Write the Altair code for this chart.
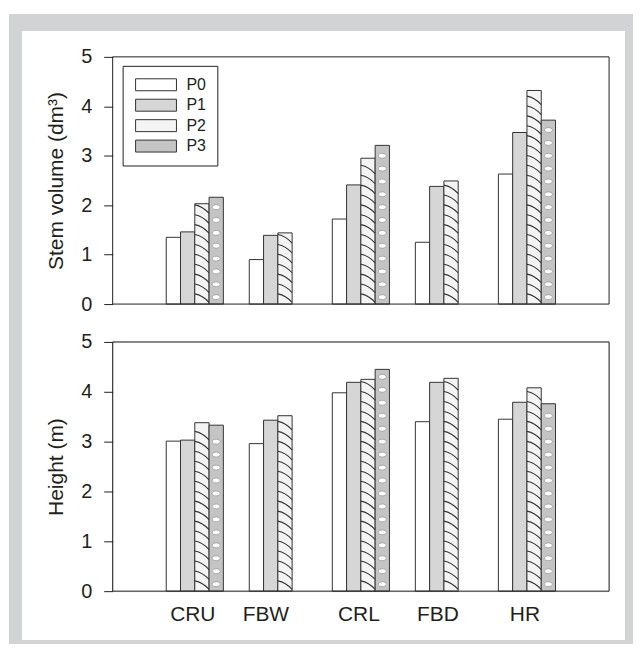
import altair as alt
import pandas as pd

categories = ["CRU", "FBW", "CRL", "FBD", "HR"]
series = ["P0", "P1", "P2", "P3"]

volume_p0 = [1.35, 0.90, 1.72, 1.25, 2.63]
volume_p1 = [1.46, 1.39, 2.41, 2.38, 3.47]
volume_p2 = [2.03, 1.44, 2.95, 2.49, 4.32]
volume_p3 = [2.16, None, 3.21, None, 3.72]

height_p0 = [3.01, 2.96, 3.98, 3.40, 3.45]
height_p1 = [3.03, 3.43, 4.19, 4.19, 3.79]
height_p2 = [3.38, 3.52, 4.25, 4.27, 4.08]
height_p3 = [3.33, None, 4.45, None, 3.76]

y_ticks = [0, 1, 2, 3, 4, 5]


def long_table(cols):
    rows = []
    for s, vals in zip(series, cols):
        for c, v in zip(categories, vals):
            if v is not None:
                rows.append({"cat": c, "series": s, "value": v})
    return pd.DataFrame(rows)


vol_df = long_table([volume_p0, volume_p1, volume_p2, volume_p3])
hgt_df = long_table([height_p0, height_p1, height_p2, height_p3])

FONT = "Liberation Sans"
INK = "#231f20"
FILLS = ["#ffffff", "#d6d6d6", "#f4f4f4", "#c4c4c4"]
HATCH = "M-1,-0.6Q0.1,-0.4,1,0.6"
BLOB = "M-1,0A1,0.6,0,1,0,1,0A1,0.6,0,1,0,-1,0Z"
W = 498


def panel(df, title, top, h):
    x_axis = None if top else alt.Axis(
        title=None, labelAngle=0, ticks=False, labelFontSize=21, labelPadding=12,
        labelColor=INK, labelFont=FONT, domain=False,
        labelOffset={"condition": [{"test": "datum.value === 'FBW'", "value": -12},
                                   {"test": "datum.value === 'FBD'", "value": -6}],
                     "value": -2})
    xscale = alt.Scale(domain=categories, paddingInner=0.312, paddingOuter=0.645, align=0.5)
    x = alt.X("cat:N", sort=categories, scale=xscale, axis=x_axis)
    xo = alt.XOffset("series:N", scale=alt.Scale(domain=series, paddingInner=0, paddingOuter=0))
    yscale = alt.Scale(domain=[0, 5], nice=False, zero=True)
    yaxis = alt.Axis(
        title=title, values=y_ticks, tickSize=9, tickColor=INK, domain=False,
        labelFontSize=20, labelPadding=12, labelColor=INK, labelFont=FONT,
        titleFontSize=21, titleFontWeight="normal", titleColor=INK, titleFont=FONT,
        titlePadding=14, grid=False, zindex=1)

    legend = alt.Legend(
        title=None, orient="none", legendX=10, legendY=9,
        symbolType="M-3.417,-1H3.417V1H-3.417Z", symbolSize=144, symbolOffset=14.5,
        symbolStrokeColor="#333", symbolStrokeWidth=1, symbolOpacity=1,
        labelFontSize=16, labelFont=FONT, labelColor=INK, labelOffset=22.5,
        strokeColor=INK, fillColor="white", padding=11, rowPadding=4.5,
        cornerRadius=0,
    ) if top else None

    base = alt.Chart(df)
    bars = base.mark_bar(stroke="#333", strokeWidth=1).encode(
        x=x, xOffset=xo,
        y=alt.Y("value:Q", scale=yscale, axis=yaxis),
        color=alt.Color("series:N", scale=alt.Scale(domain=series, range=FILLS), legend=legend),
    )
    hatch = base.transform_filter(alt.datum.series == "P2").transform_calculate(
        k="sequence(0.12, datum.value - 0.08, 0.2)"
    ).transform_flatten(["k"]).mark_point(
        shape=HATCH, size=204, filled=False, stroke="#333", strokeWidth=1.1, opacity=1
    ).encode(x=x, xOffset=xo, y=alt.Y("k:Q", scale=yscale, axis=yaxis))
    dots = base.transform_filter(alt.datum.series == "P3").transform_calculate(
        k="sequence(0.14, datum.value - 0.08, 0.26)"
    ).transform_flatten(["k"]).mark_point(
        shape=BLOB, size=64, filled=True, fill="white", stroke="#888", strokeWidth=0.6, opacity=1
    ).encode(x=x, xOffset=xo, y=alt.Y("k:Q", scale=yscale, axis=yaxis))

    one = pd.DataFrame({"z": [0]})
    frame = alt.Chart(one).mark_rect(fillOpacity=0, stroke=INK, strokeWidth=1).encode(
        x=alt.value(0), x2=alt.value(W), y=alt.value(0), y2=alt.value(h))

    layers = [bars, hatch, dots, frame]
    if top:
        gray = alt.Chart(one).mark_rect(fill="#d1d3d4", strokeWidth=0).encode(
            x=alt.value(-104), x2=alt.value(522), y=alt.value(-43), y2=alt.value(589))
        white = alt.Chart(one).mark_rect(fill="white", strokeWidth=0).encode(
            x=alt.value(-91), x2=alt.value(514), y=alt.value(-26), y2=alt.value(585))
        layers = [gray, white] + layers
    return alt.layer(*layers).properties(width=W, height=h)


top = panel(vol_df, "Stem volume (dm³)", True, 248)
bottom = panel(hgt_df, "Height (m)", False, 250)

chart = alt.vconcat(top, bottom, spacing=38).properties(
    bounds="flush",
    padding={"top": 4, "left": 0, "right": 0, "bottom": 0},
).resolve_legend(color="independent").configure_view(
    stroke=None
).configure(background="white")

chart.save("out.html", embed_options={"renderer": "svg", "actions": False})
